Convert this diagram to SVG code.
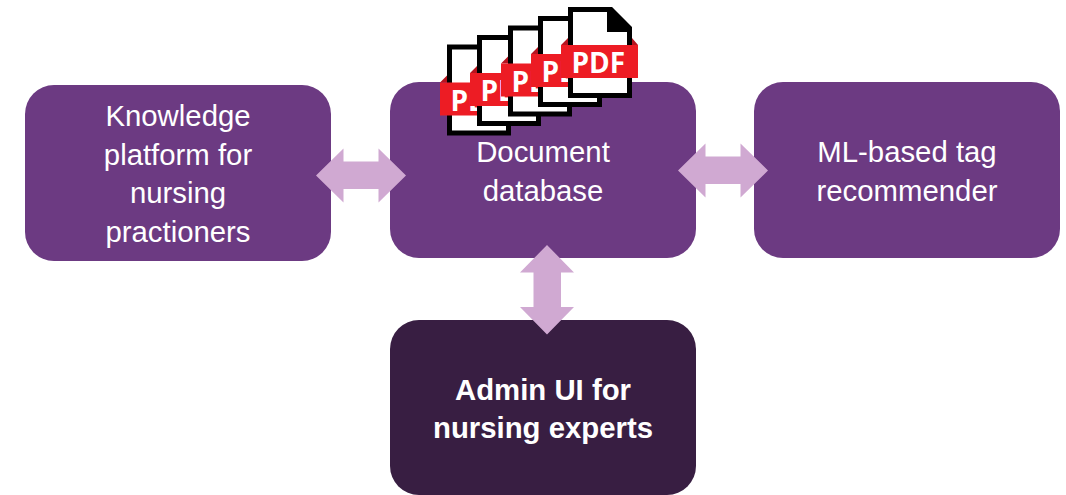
<svg xmlns="http://www.w3.org/2000/svg" width="1066" height="495" viewBox="0 0 1066 495">
<style>
.box{fill:#6c3a82}
.dark{fill:#381e42}
.arrow{fill:#d0a9d2}
text{font-family:"Liberation Sans",Arial,sans-serif;font-size:29.33px;fill:#fff;text-anchor:middle}
.b{font-weight:700}
.pdf{font-family:"Open Sans","Liberation Sans",sans-serif;font-weight:700;font-size:28px;text-anchor:start}
</style>
<defs>
<g id="doc">
<path d="M2.500 2.500H43L61.500 21V88.500H2.500Z" fill="#fff" stroke="#000" stroke-width="5" stroke-linejoin="miter"/>
<path d="M43 2L62 21V25H39V2Z" fill="#000"/>
<path d="M-7 38L0 31V38ZM70 38L64 31V38Z" fill="#b8141f"/>
<rect x="-7" y="38" width="77" height="33" fill="#ed1c24"/>
<text class="pdf" x="3.500" y="66">PDF</text>
</g>
</defs>
<rect width="1066" height="495" fill="#fff"/>
<g id="node-knowledge">
<rect class="box" x="25" y="85" width="306" height="176" rx="29"/>
<text x="178" y="126">Knowledge</text>
<text x="178" y="164.500">platform for</text>
<text x="178" y="203">nursing</text>
<text x="178" y="241.500">practioners</text>
</g>
<g id="node-database">
<rect class="box" x="390" y="82" width="306" height="176" rx="29"/>
<text x="543" y="162">Document</text>
<text x="543" y="200.500">database</text>
</g>
<g id="node-recommender">
<rect class="box" x="754" y="82" width="306" height="176" rx="29"/>
<text x="907" y="162">ML-based tag</text>
<text x="907" y="200.500">recommender</text>
</g>
<g id="node-admin">
<rect class="dark" x="390" y="320" width="306" height="175" rx="29"/>
<text class="b" x="543" y="400">Admin UI for</text>
<text class="b" x="543" y="438">nursing experts</text>
</g>
<g id="connectors">
<path class="arrow" d="M316 175.500L343.500 148.500V161.500H378.500V148.500L406 175.500L378.500 202.500V189H343.500V202.500Z"/>
<path class="arrow" d="M678 170.500L705.500 143.500V156.500H740.500V143.500L768 170.500L740.500 197.500V184H705.500V197.500Z"/>
<path class="arrow" d="M547 245L574 272.500H561V307H574L547 334.500L520 307H533.500V272.500H520Z"/>
</g>
<g id="pdf-icons">
<use href="#doc" x="447" y="44.500"/>
<use href="#doc" x="477" y="35"/>
<use href="#doc" x="508" y="25.500"/>
<use href="#doc" x="538" y="16"/>
<use href="#doc" x="568" y="7"/>
</g>
</svg>
